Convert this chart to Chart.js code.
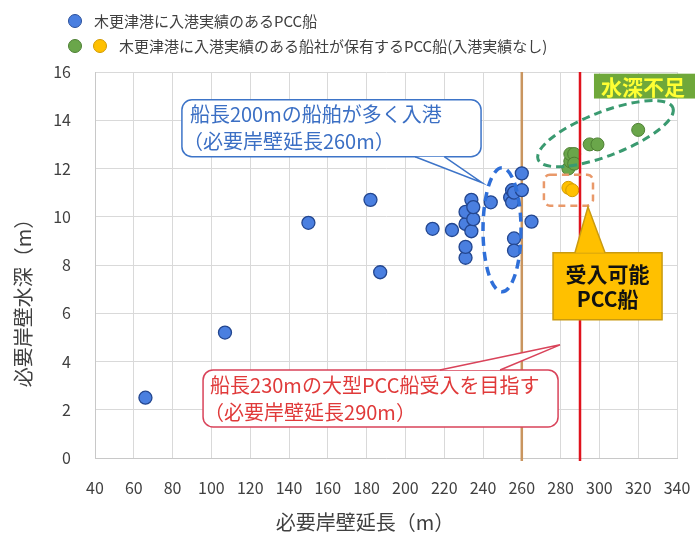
<!DOCTYPE html>
<html>
<head>
<meta charset="utf-8">
<script src="https://cdn.jsdelivr.net/npm/chart.js@4/dist/chart.umd.min.js"></script>
<style>
  html, body { margin: 0; padding: 0; background: #ffffff; }
  #wrap { position: relative; width: 695px; height: 537px; }
</style>
</head>
<body>
<div id="wrap"><canvas id="dataChart" width="695" height="537"></canvas></div>
<script>
'use strict';

// ships that have called at the port
let blueX = [66, 107, 150, 182, 187, 214, 224, 231, 231, 231, 231, 234, 235, 234, 235, 244, 254, 255, 255, 256, 256, 256, 260, 260, 265];
let blueY = [2.5, 5.2, 9.75, 10.7, 7.7, 9.5, 9.45, 8.3, 8.75, 9.7, 10.2, 9.4, 9.9, 10.7, 10.4, 10.6, 10.8, 10.6, 11.1, 11.0, 9.1, 8.6, 11.1, 11.8, 9.8];
// owned by the same operators, no call yet
let greenX = [284, 285, 285, 287, 287, 295, 299, 320];
let greenY = [12.0, 12.3, 12.6, 12.6, 12.2, 13.0, 13.0, 13.6];
let yellowX = [284, 286];
let yellowY = [11.2, 11.1];

let xTicks = [40, 60, 80, 100, 120, 140, 160, 180, 200, 220, 240, 260, 280, 300, 320, 340];
let yTicks = [0, 2, 4, 6, 8, 10, 12, 14, 16];
let berth260 = 260;
let berth290 = 290;

let legendLabels = ['木更津港に入港実績のあるPCC船', '木更津港に入港実績のある船社が保有するPCC船(入港実績なし)'];
let xTitle = '必要岸壁延長（m）';
let yTitle = '必要岸壁水深（m）';

let jp = '"Noto Sans CJK JP", "Noto Sans", sans-serif';

function toPoints(xs, ys) {
  let pts = [];
  for (let i = 0; i < xs.length; i++) {
    pts.push({ x: xs[i], y: ys[i] });
  }
  return pts;
}

function roundRect(ctx, x1, y1, x2, y2, r) {
  ctx.beginPath();
  ctx.moveTo(x1 + r, y1);
  ctx.lineTo(x2 - r, y1);
  ctx.arcTo(x2, y1, x2, y1 + r, r);
  ctx.lineTo(x2, y2 - r);
  ctx.arcTo(x2, y2, x2 - r, y2, r);
  ctx.lineTo(x1 + r, y2);
  ctx.arcTo(x1, y2, x1, y2 - r, r);
  ctx.lineTo(x1, y1 + r);
  ctx.arcTo(x1, y1, x1 + r, y1, r);
  ctx.closePath();
}

// callout box with a wedge tail, everything in data units
function callout(ctx, xs, ys, box, tail, fill, stroke, lw, r) {
  let x1 = xs.getPixelForValue(box[0]);
  let x2 = xs.getPixelForValue(box[1]);
  let y1 = ys.getPixelForValue(box[2]);
  let y2 = ys.getPixelForValue(box[3]);
  let ta = xs.getPixelForValue(tail[0]);
  let tb = xs.getPixelForValue(tail[1]);
  let tx = xs.getPixelForValue(tail[2]);
  let ty = ys.getPixelForValue(tail[3]);
  let edge = ty < y1 ? y1 : y2;
  ctx.save();
  ctx.lineWidth = lw;
  ctx.strokeStyle = stroke;
  ctx.fillStyle = fill;
  roundRect(ctx, x1, y1, x2, y2, r);
  ctx.fill();
  ctx.stroke();
  ctx.beginPath();
  ctx.moveTo(ta, edge);
  ctx.lineTo(tx, ty);
  ctx.lineTo(tb, edge);
  ctx.closePath();
  ctx.fill();
  ctx.beginPath();
  ctx.moveTo(ta, edge);
  ctx.lineTo(tx, ty);
  ctx.lineTo(tb, edge);
  ctx.stroke();
  ctx.restore();
  return { x1: x1, x2: x2, y1: y1, y2: y2 };
}

function vline(chart, value, color) {
  let ctx = chart.ctx;
  let a = chart.chartArea;
  let px = chart.scales.x.getPixelForValue(value);
  ctx.save();
  ctx.strokeStyle = color;
  ctx.lineWidth = 2.5;
  ctx.beginPath();
  ctx.moveTo(px, a.top);
  ctx.lineTo(px, a.bottom + 3);
  ctx.stroke();
  ctx.restore();
}

let extras = {
  id: 'extras',
  beforeDatasetsDraw(chart) {
    vline(chart, berth260, '#c9955f');
  },
  afterDatasetsDraw(chart) {
    let ctx = chart.ctx;
    let xs = chart.scales.x;
    let ys = chart.scales.y;
    vline(chart, berth290, '#e0121c');

    // blue dashed ellipse round the 260m group
    ctx.save();
    ctx.setLineDash([9, 6]);
    ctx.lineWidth = 3.5;
    ctx.strokeStyle = '#2f6fd8';
    let cx = xs.getPixelForValue(249.8);
    let cy = ys.getPixelForValue(9.46);
    let rx = xs.getPixelForValue(249.8 + 9.8) - cx;
    let ry = cy - ys.getPixelForValue(9.46 + 2.57);
    ctx.beginPath();
    ctx.ellipse(cx, cy, rx, ry, 0, 0, Math.PI * 2);
    ctx.stroke();

    // green dashed ellipse, tilted
    let ax = xs.getPixelForValue(268.4);
    let ay = ys.getPixelForValue(12.37);
    let bx = xs.getPixelForValue(337.9);
    let by = ys.getPixelForValue(14.52);
    ctx.strokeStyle = '#3a9a70';
    ctx.lineWidth = 3;
    ctx.setLineDash([8, 5]);
    ctx.beginPath();
    ctx.ellipse((ax + bx) / 2, (ay + by) / 2, Math.hypot(bx - ax, by - ay) / 2, 22, Math.atan2(by - ay, bx - ax), 0, Math.PI * 2);
    ctx.stroke();

    // orange dashed box round the yellow points
    ctx.strokeStyle = '#e9996a';
    ctx.lineWidth = 2.5;
    ctx.setLineDash([7, 5]);
    roundRect(ctx, xs.getPixelForValue(271.4), ys.getPixelForValue(11.74), xs.getPixelForValue(296.7), ys.getPixelForValue(10.46), 6);
    ctx.stroke();
    ctx.restore();

    // 水深不足
    let wx1 = xs.getPixelForValue(297.2);
    let wy1 = ys.getPixelForValue(15.93);
    let wy2 = ys.getPixelForValue(14.9);
    ctx.save();
    ctx.fillStyle = '#6fa83a';
    ctx.fillRect(wx1, wy1, 695 - wx1, wy2 - wy1);
    ctx.fillStyle = '#ffff33';
    ctx.font = 'bold 21px ' + jp;
    ctx.textAlign = 'left';
    ctx.textBaseline = 'middle';
    ctx.fillText('水深不足', wx1 + 7, (wy1 + wy2) / 2 + 1);
    ctx.restore();

    // blue callout
    let b = callout(ctx, xs, ys, [84.8, 239, 14.85, 12.49], [205, 220, 239.5, 11.41], '#ffffff', '#3d74c8', 1.5, 10);
    ctx.save();
    ctx.fillStyle = '#3b6fc4';
    ctx.font = '20px ' + jp;
    ctx.textBaseline = 'middle';
    ctx.fillText('船長200mの船舶が多く入港', b.x1 + 8, b.y1 + 15);
    ctx.fillText('（必要岸壁延長260m）', b.x1 + 1, b.y1 + 42);
    ctx.restore();

    // red callout
    let r = callout(ctx, xs, ys, [95.7, 278.7, 3.65, 1.29], [217.8, 248.8, 279.7, 4.69], '#ffffff', '#d9435a', 1.5, 10);
    ctx.save();
    ctx.fillStyle = '#e03a3a';
    ctx.font = '20px ' + jp;
    ctx.textBaseline = 'middle';
    ctx.fillText('船長230mの大型PCC船受入を目指す', r.x1 + 7, r.y1 + 15);
    ctx.fillText('（必要岸壁延長290m）', r.x1 + 1, r.y1 + 42);
    ctx.restore();

    // yellow callout
    let y = callout(ctx, xs, ys, [276.1, 332.3, 8.51, 5.73], [287.4, 302.9, 294.1, 10.41], '#ffc000', '#c99a10', 1.5, 0);
    ctx.save();
    ctx.fillStyle = '#111111';
    ctx.font = 'bold 21px ' + jp;
    ctx.textAlign = 'center';
    ctx.textBaseline = 'middle';
    ctx.fillText('受入可能', (y.x1 + y.x2) / 2, y.y1 + 21);
    ctx.fillText('PCC船', (y.x1 + y.x2) / 2, y.y1 + 46);
    ctx.restore();
  },
  afterDraw(chart) {
    let ctx = chart.ctx;
    ctx.save();
    // legend
    let marks = [[75, 21, '#4a7fe0', '#2a4f9a'], [75, 46, '#6aa64a', '#4d7f33'], [100, 46, '#ffc000', '#d19a00']];
    for (let i = 0; i < marks.length; i++) {
      ctx.beginPath();
      ctx.arc(marks[i][0], marks[i][1], 6.5, 0, Math.PI * 2);
      ctx.fillStyle = marks[i][2];
      ctx.fill();
      ctx.lineWidth = 1;
      ctx.strokeStyle = marks[i][3];
      ctx.stroke();
    }
    ctx.fillStyle = '#404040';
    ctx.font = '15px ' + jp;
    ctx.textBaseline = 'middle';
    ctx.fillText(legendLabels[0], 94, 21);
    ctx.fillText(legendLabels[1], 119, 46);

    // axis titles
    ctx.font = '20px ' + jp;
    ctx.textAlign = 'center';
    ctx.fillText(xTitle, 365, 522);
    ctx.translate(23, 298);
    ctx.rotate(-Math.PI / 2);
    ctx.fillText(yTitle, 0, 0);
    ctx.restore();
  }
};

let ctx = document.getElementById('dataChart').getContext('2d');
// eslint-disable-next-line no-unused-vars
let dataChart = new Chart(ctx, {
  type: 'scatter',
  data: {
    datasets: [{
      label: legendLabels[0],
      data: toPoints(blueX, blueY),
      backgroundColor: '#4a7fe0',
      borderColor: '#23468f',
      borderWidth: 1.3,
      pointRadius: 6.5
    }, {
      label: legendLabels[1],
      data: toPoints(greenX, greenY),
      backgroundColor: '#6aa64a',
      borderColor: '#4d7f33',
      borderWidth: 1,
      pointRadius: 6.5
    }, {
      label: legendLabels[1],
      data: toPoints(yellowX, yellowY),
      backgroundColor: '#ffc000',
      borderColor: '#d19a00',
      borderWidth: 1,
      pointRadius: 6.5
    }]
  },
  options: {
    responsive: false,
    animation: false,
    layout: { padding: { top: 72, right: 18, left: 0, bottom: 0 } },
    plugins: {
      legend: { display: false },
      tooltip: { enabled: false }
    },
    scales: {
      x: {
        type: 'linear',
        min: xTicks[0],
        max: xTicks[xTicks.length - 1],
        afterBuildTicks(scale) {
          scale.ticks = xTicks.map(v => ({ value: v }));
        },
        afterFit(scale) {
          scale.height = 79;
          scale.paddingLeft = 0;
          scale.paddingRight = 0;
        },
        grid: { color: '#d9d9d9', drawTicks: false },
        border: { color: '#c8c8c8' },
        ticks: { padding: 20, color: '#404040', autoSkip: false, maxRotation: 0, font: { family: jp, size: 16 } }
      },
      y: {
        type: 'linear',
        min: yTicks[0],
        max: yTicks[yTicks.length - 1],
        afterBuildTicks(scale) {
          scale.ticks = yTicks.map(v => ({ value: v }));
        },
        afterFit(scale) {
          scale.width = 95;
          scale.paddingTop = 0;
          scale.paddingBottom = 0;
        },
        grid: { color: '#d9d9d9', drawTicks: false },
        border: { color: '#c8c8c8' },
        ticks: { padding: 24, color: '#404040', font: { family: jp, size: 16 } }
      }
    }
  },
  plugins: [extras]
});
</script>
</body>
</html>
